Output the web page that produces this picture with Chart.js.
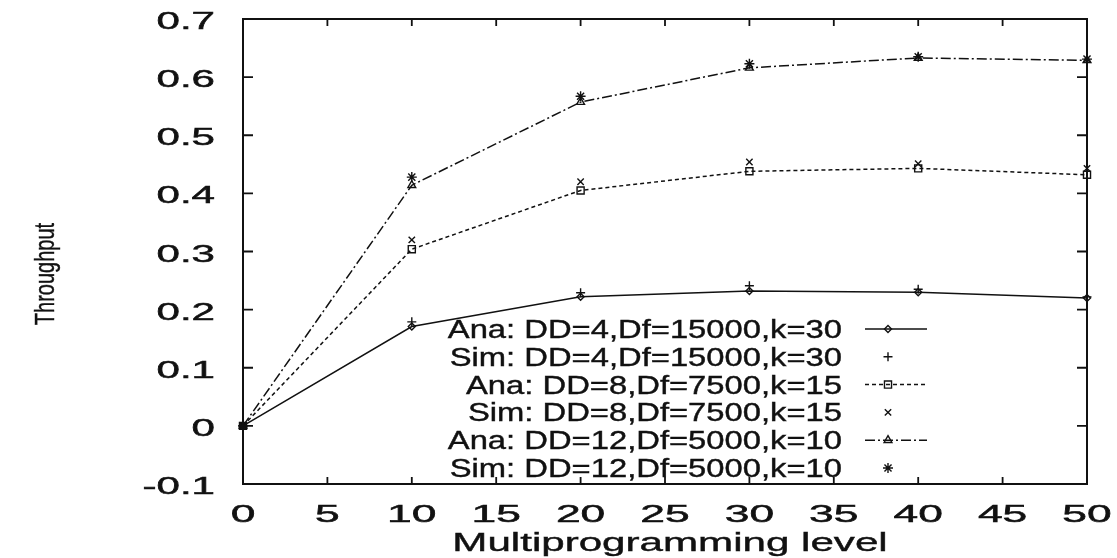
<!DOCTYPE html>
<html><head><meta charset="utf-8">
<script src="https://cdn.jsdelivr.net/npm/chart.js@4.4.1/dist/chart.umd.min.js"></script>
<style>html,body{margin:0;padding:0;background:#fff;}#wrap{width:1117px;height:558px;position:relative;}</style>
</head><body><div id="wrap"><canvas id="c"></canvas></div>
<script>
// ---- data ----
const xLevels = [0, 10, 20, 30, 40, 50];
const anaDD4  = [0, 0.171, 0.222, 0.232, 0.230, 0.220];
const simDD4  = [0, 0.179, 0.229, 0.241, 0.235, 0.222];
const anaDD8  = [0, 0.304, 0.405, 0.438, 0.443, 0.432];
const simDD8  = [0, 0.320, 0.420, 0.454, 0.451, 0.443];
const anaDD12 = [0, 0.414, 0.557, 0.616, 0.633, 0.629];
const simDD12 = [0, 0.428, 0.567, 0.623, 0.635, 0.631];
const seriesLabels = [
  'Ana: DD=4,Df=15000,k=30',
  'Sim: DD=4,Df=15000,k=30',
  'Ana: DD=8,Df=7500,k=15',
  'Sim: DD=8,Df=7500,k=15',
  'Ana: DD=12,Df=5000,k=10',
  'Sim: DD=12,Df=5000,k=10'
];
const xTickValues = [0, 5, 10, 15, 20, 25, 30, 35, 40, 45, 50];
const xTickLabels = ['0','5','10','15','20','25','30','35','40','45','50'];
const yTickValues = [-0.1, 0, 0.1, 0.2, 0.3, 0.4, 0.5, 0.6, 0.7];
const yTickLabels = ['-0.1','0','0.1','0.2','0.3','0.4','0.5','0.6','0.7'];
const xTitle = 'Multiprogramming level';
const yTitle = 'Throughput';

// ---- styling ----
const FONT = '"Liberation Sans", Arial, Helvetica, sans-serif';
const INK = '#111';
const pts = ys => xLevels.map((x, i) => ({x: x, y: ys[i]}));
function mk(label, ys, style, radius, showLine, dash) {
  return {
    label: label, data: pts(ys), showLine: showLine, clip: false,
    borderColor: INK, borderWidth: 1.5, borderDash: dash || [],
    pointStyle: style, pointRadius: radius, pointBorderColor: INK,
    pointBackgroundColor: 'rgba(0,0,0,0)', pointBorderWidth: 1.4,
    tension: 0, fill: false
  };
}
const datasets = [
  mk(seriesLabels[0], anaDD4, 'rectRot', 3.5, true, []),
  mk(seriesLabels[1], simDD4, 'cross', 4.5, false),
  mk(seriesLabels[2], anaDD8, 'rect', 5, true, [4, 3]),
  mk(seriesLabels[3], simDD8, 'crossRot', 4.5, false),
  mk(seriesLabels[4], anaDD12, 'triangle', 4.5, true, [10, 3, 2, 3]),
  mk(seriesLabels[5], simDD12, 'star', 5, false)
];

function txt(ctx, s, x, y, size, sx, align, baseline, rot, weightStroke) {
  ctx.save();
  ctx.translate(x, y);
  ctx.scale(sx, 1);
  if (rot) ctx.rotate(rot);
  ctx.font = size + 'px ' + FONT;
  ctx.fillStyle = INK;
  ctx.strokeStyle = INK;
  ctx.textAlign = align;
  ctx.textBaseline = baseline;
  ctx.fillText(s, 0, 0);
  if (weightStroke) { ctx.lineWidth = weightStroke; ctx.strokeText(s, 0, 0); }
  ctx.restore();
}

const decor = {
  id: 'decor',
  afterDraw(chart) {
    const ctx = chart.ctx, ca = chart.chartArea;
    const xs = chart.scales.x, ys = chart.scales.y;
    ctx.save();
    ctx.strokeStyle = INK;
    ctx.lineWidth = 2;
    ctx.setLineDash([]);
    ctx.strokeRect(ca.left, ca.top, ca.right - ca.left, ca.bottom - ca.top);
    ctx.lineWidth = 1.8;
    ctx.beginPath();
    xTickValues.forEach(v => {
      const p = xs.getPixelForValue(v);
      ctx.moveTo(p, ca.bottom); ctx.lineTo(p, ca.bottom - 7);
      ctx.moveTo(p, ca.top); ctx.lineTo(p, ca.top + 7);
    });
    yTickValues.forEach(v => {
      const p = ys.getPixelForValue(v);
      ctx.moveTo(ca.left, p); ctx.lineTo(ca.left + 10, p);
      ctx.moveTo(ca.right, p); ctx.lineTo(ca.right - 10, p);
    });
    ctx.stroke();
    ctx.restore();

    // tick labels
    xTickValues.forEach((v, i) => {
      txt(ctx, xTickLabels[i], xs.getPixelForValue(v), 522, 24, 1.85, 'center', 'alphabetic', 0, 0.5);
    });
    yTickValues.forEach((v, i) => {
      txt(ctx, yTickLabels[i], 215, ys.getPixelForValue(v) + 10, 23, 1.83, 'right', 'alphabetic', 0, 0.5);
    });
    // axis titles
    txt(ctx, xTitle, (ca.left + ca.right) / 2 + 5, 551, 26, 1.62, 'center', 'alphabetic', 0, 0.4);
    txt(ctx, yTitle, 47, 274, 20, 1.35, 'center', 'middle', -Math.PI / 2, 0.3);

    // legend
    chart.data.datasets.forEach((ds, i) => {
      const base = 338 + 27.8 * i;
      txt(ctx, ds.label, 842, base, 25, 1.31, 'right', 'alphabetic', 0, 0.4);
      const ly = base - 9;
      ctx.save();
      ctx.strokeStyle = INK;
      if (ds.showLine) {
        ctx.lineWidth = ds.borderWidth;
        ctx.setLineDash(ds.borderDash);
        ctx.beginPath();
        ctx.moveTo(865, ly); ctx.lineTo(927, ly);
        ctx.stroke();
      }
      ctx.setLineDash([]);
      ctx.lineWidth = ds.pointBorderWidth;
      ctx.fillStyle = ds.pointBackgroundColor;
      Chart.helpers.drawPoint(ctx, {
        pointStyle: ds.pointStyle, radius: ds.pointRadius, rotation: 0,
        borderWidth: ds.pointBorderWidth
      }, 888, ly);
      ctx.restore();
    });
  }
};

new Chart(document.getElementById('c'), {
  type: 'line',
  data: { datasets: datasets },
  options: {
    responsive: true, maintainAspectRatio: false, animation: false,
    layout: { padding: { left: 0, top: 19, right: 30, bottom: 0 } },
    plugins: { legend: { display: false }, tooltip: { enabled: false } },
    scales: {
      x: {
        type: 'linear', min: 0, max: 50,
        ticks: { display: false, stepSize: 5 },
        grid: { display: false }, border: { display: false },
        afterFit: s => { s.height = 74; }
      },
      y: {
        type: 'linear', min: -0.1, max: 0.7,
        ticks: { display: false, stepSize: 0.1 },
        grid: { display: false }, border: { display: false },
        afterFit: s => { s.width = 243; }
      }
    }
  },
  plugins: [decor]
});
</script></body></html>
